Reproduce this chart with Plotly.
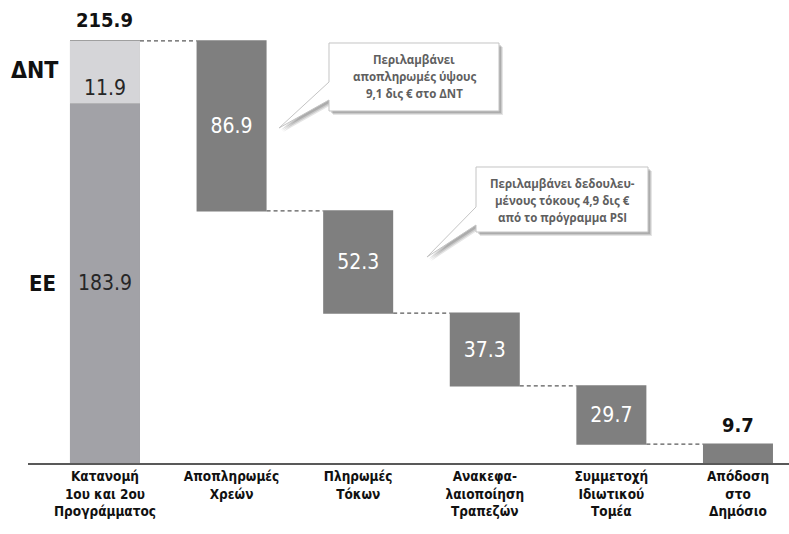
import plotly.graph_objects as go

# ---- data ----
categories = ["Κατανομή<br>1ου και 2ου<br>Προγράμματος", "Αποπληρωμές<br>Χρεών",
              "Πληρωμές<br>Τόκων", "Ανακεφα-<br>λαιοποίηση<br>Τραπεζών",
              "Συμμετοχή<br>Ιδιωτικού<br>Τομέα", "Απόδοση<br>στο<br>Δημόσιο"]
total_start = 215.9
ee_value = 183.9
dnt_label = "11.9"          # label printed on the ΔΝΤ segment
decrements = [86.9, 52.3, 37.3, 29.7]
final_value = 9.7
callout1 = ["Περιλαμβάνει", "αποπληρωμές ύψους", "9,1 δις € στο ΔΝΤ"]
callout2 = ["Περιλαμβάνει δεδουλευ-", "μένους τόκους 4,9 δις €", "από το πρόγραμμα PSI"]

# ---- style ----
NARROW = "Liberation Sans Narrow, Arial Narrow, DejaVu Sans Condensed, sans-serif"
DARK = "#7f7f7f"
EE_COL = "#a2a2a7"
DNT_COL = "#d5d5d8"
BW = 0.553
L_M, T_M, PW, PH = 28, 0, 761, 463

def X(px):
    return (px - L_M) / PW

def Y(py):
    return (T_M + PH - py) / PH

x_idx = list(range(len(categories)))

fig = go.Figure()

# waterfall for the whole sequence (first bar covered by the stacked bars)
fig.add_trace(go.Waterfall(
    x=x_idx,
    measure=["absolute"] + ["relative"] * len(decrements) + ["total"],
    y=[total_start] + [-d for d in decrements] + [0],
    width=[BW] * len(categories),
    text=[""] + [f"{d}" for d in decrements] + [""],
    textinfo="text",
    textposition="inside",
    insidetextanchor="middle",
    insidetextfont=dict(color="white", size=21, family=NARROW),
    decreasing=dict(marker=dict(color=DARK)),
    increasing=dict(marker=dict(color=DARK)),
    totals=dict(marker=dict(color=DARK)),
    connector=dict(mode="between", line=dict(color="#595959", width=1.3, dash="4px,3px")),
    hoverinfo="skip",
    showlegend=False,
))

# stacked first bar: ΕΕ + ΔΝΤ
fig.add_trace(go.Bar(
    x=[0], y=[ee_value], base=[0], width=[BW],
    marker=dict(color=EE_COL, line=dict(width=0)),
    text=[f"{ee_value}"], textposition="inside", insidetextanchor="middle",
    textfont=dict(color="#262626", size=21, family=NARROW),
    hoverinfo="skip", showlegend=False,
))
fig.add_trace(go.Bar(
    x=[0], y=[total_start - ee_value], base=[ee_value], width=[BW],
    marker=dict(color=DNT_COL, line=dict(width=0)),
    text=[dnt_label], textposition="inside", insidetextanchor="start",
    textfont=dict(color="#262626", size=21, family=NARROW),
    hoverinfo="skip", showlegend=False,
))

annotations = []
# bold totals above first/last bars
annotations.append(dict(x=0, y=total_start, xref="x", yref="y", text=f"<b>{total_start}</b>",
                        showarrow=False, yanchor="bottom", yshift=7,
                        font=dict(size=20, color="#111111", family=NARROW)))
annotations.append(dict(x=len(categories) - 1, y=final_value, xref="x", yref="y",
                        text=f"<b>{final_value}</b>", showarrow=False, yanchor="bottom", yshift=5,
                        font=dict(size=20, color="#111111", family=NARROW)))
# segment names to the left of the first bar
annotations.append(dict(x=0, y=(ee_value + total_start) / 2, xref="x", yref="y", text="<b>ΔΝΤ</b>",
                        showarrow=False, xanchor="right", xshift=-45, yshift=2,
                        font=dict(size=23, color="#111111", family=NARROW)))
annotations.append(dict(x=0, y=ee_value / 2, xref="x", yref="y", text="<b>ΕΕ</b>",
                        showarrow=False, xanchor="right", xshift=-47,
                        font=dict(size=22, color="#111111", family=NARROW)))

shapes = []

def callout(Lp, Tp, Rp, Bp, ty1, ty2, tipx, tipy, lines, cx, ys):
    def path(dx, dy):
        pts = [(Lp, Tp), (Rp, Tp), (Rp, Bp), (Lp, Bp), (Lp, ty2), (tipx, tipy), (Lp, ty1)]
        s = "M " + " L ".join(f"{X(a + dx):.5f},{Y(b + dy):.5f}" for a, b in pts) + " Z"
        return s
    for off, op in [(4, 0.10), (3, 0.12), (2, 0.14)]:
        shapes.append(dict(type="path", xref="paper", yref="paper", path=path(off, off),
                           fillcolor=f"rgba(0,0,0,{op})", line=dict(width=0), layer="above"))
    shapes.append(dict(type="path", xref="paper", yref="paper", path=path(0, 0),
                       fillcolor="white", line=dict(color="#c4c4c4", width=1), layer="above"))
    for t, yy in zip(lines, ys):
        annotations.append(dict(x=X(cx), y=Y(yy), xref="paper", yref="paper", text=f"<b>{t}</b>",
                                showarrow=False, xanchor="center", yanchor="middle",
                                font=dict(size=11.5, color="#5f5f5f", family="Open Sans, sans-serif")))

callout(329, 43, 499, 111, 82, 100, 279, 128, callout1, 414, [60, 77, 94])
callout(476, 167, 648, 232, 207, 225, 427, 257, callout2, 562, [183, 200, 217])

fig.update_layout(
    width=789, height=534,
    margin=dict(l=L_M, r=0, t=T_M, b=534 - PH - T_M, pad=0),
    paper_bgcolor="white", plot_bgcolor="white",
    barmode="overlay",
    xaxis=dict(range=[-0.608, 5.403], tickvals=x_idx, ticktext=[f"<b>{c}</b>" for c in categories],
               showgrid=False, zeroline=False, showline=True, linecolor="#595959", linewidth=1.5,
               ticks="", tickfont=dict(size=13.5, color="#111111", family=NARROW), fixedrange=True),
    yaxis=dict(range=[0, PH / 1.955], visible=False, fixedrange=True),
    annotations=annotations,
    shapes=shapes,
    font=dict(family=NARROW),
)

fig.write_html("out.html")
